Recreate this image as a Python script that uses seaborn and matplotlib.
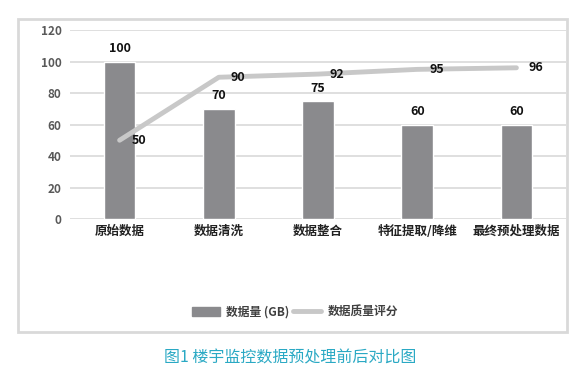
import matplotlib
matplotlib.use("Agg")
import matplotlib.pyplot as plt
import seaborn as sns
import pandas as pd
from matplotlib.patches import Rectangle
from matplotlib.lines import Line2D

categories = ["原始数据", "数据清洗", "数据整合", "特征提取/降维", "最终预处理数据"]
data_volume = [100, 70, 75, 60, 60]
quality_score = [50, 90, 92, 95, 96]
y_ticks = [0, 20, 40, 60, 80, 100, 120]
bar_label = "数据量 (GB)"
line_label = "数据质量评分"
caption = "图1 楼宇监控数据预处理前后对比图"

sns.set_theme(style="white")
plt.rcParams['font.family'] = ['Noto Sans CJK SC', 'DejaVu Sans']

df = pd.DataFrame({"cat": categories, "vol": data_volume, "q": quality_score})

fig = plt.figure(figsize=(5.8, 3.76), dpi=100)
fig.patch.set_facecolor("white")

# outer frame
fig.add_artist(Rectangle((18 / 580, 1 - 332 / 376), (567 - 18) / 580, (332 - 19) / 376,
                         transform=fig.transFigure, fill=False, edgecolor="#d9d9d9", linewidth=2))

ax = fig.add_axes([70 / 580, 1 - 219 / 376, (566 - 70) / 580, (219 - 30) / 376])
bar_color = "#8a8a8d"
line_color = "#c8c8c8"

sns.barplot(data=df, x="cat", y="vol", color=bar_color, width=0.32, ax=ax,
            saturation=1, zorder=3)
sns.lineplot(x=list(range(len(categories))), y=quality_score, color=line_color,
             linewidth=3.5, ax=ax, zorder=4)

ax.set_ylim(0, 120)
ax.set_xlim(-0.5, 4.5)
ax.set_yticks(y_ticks)
ax.set_yticklabels([str(t) for t in y_ticks], color="#595959", fontsize=8.5, fontweight="bold")
ax.set_xticks(range(len(categories)))
ax.set_xticklabels(categories, fontsize=9, fontweight="heavy", color="#222222")
ax.tick_params(axis="both", length=0, pad=6)
ax.tick_params(axis="x", pad=4)
ax.set_xlabel("")
ax.set_ylabel("")
ax.grid(axis="y", color="#d9d9d9", linewidth=1.2, zorder=0)
for s in ax.spines.values():
    s.set_visible(False)

for i, v in enumerate(data_volume):
    ax.text(i, v + 4, str(v), ha="center", va="bottom", fontsize=9, fontweight="bold",
            color="#111111", zorder=6)
for i, v in enumerate(quality_score):
    ax.text(i + 0.12, v, str(v), ha="left", va="center", fontsize=9, fontweight="bold",
            color="#111111", zorder=6)

handles = [Rectangle((0, 0), 1, 1, color=bar_color),
           Line2D([0], [0], color=line_color, linewidth=3.5)]
fig.legend(handles, [bar_label, line_label], loc="center", bbox_to_anchor=(295 / 580, 1 - 312 / 376),
           ncol=2, frameon=False, handlelength=2.4, columnspacing=0.3,
           handletextpad=0.5, prop={"weight": "bold", "size": 8.5})
leg = fig.legends[0]
for t in leg.get_texts():
    t.set_color("#404040")

fig.text(290 / 580, 1 - 358 / 376, caption, ha="center", va="center", fontsize=11.5,
         color="#2aa9c4", fontweight="light")

fig.savefig("out.png", dpi=100, facecolor="white")
